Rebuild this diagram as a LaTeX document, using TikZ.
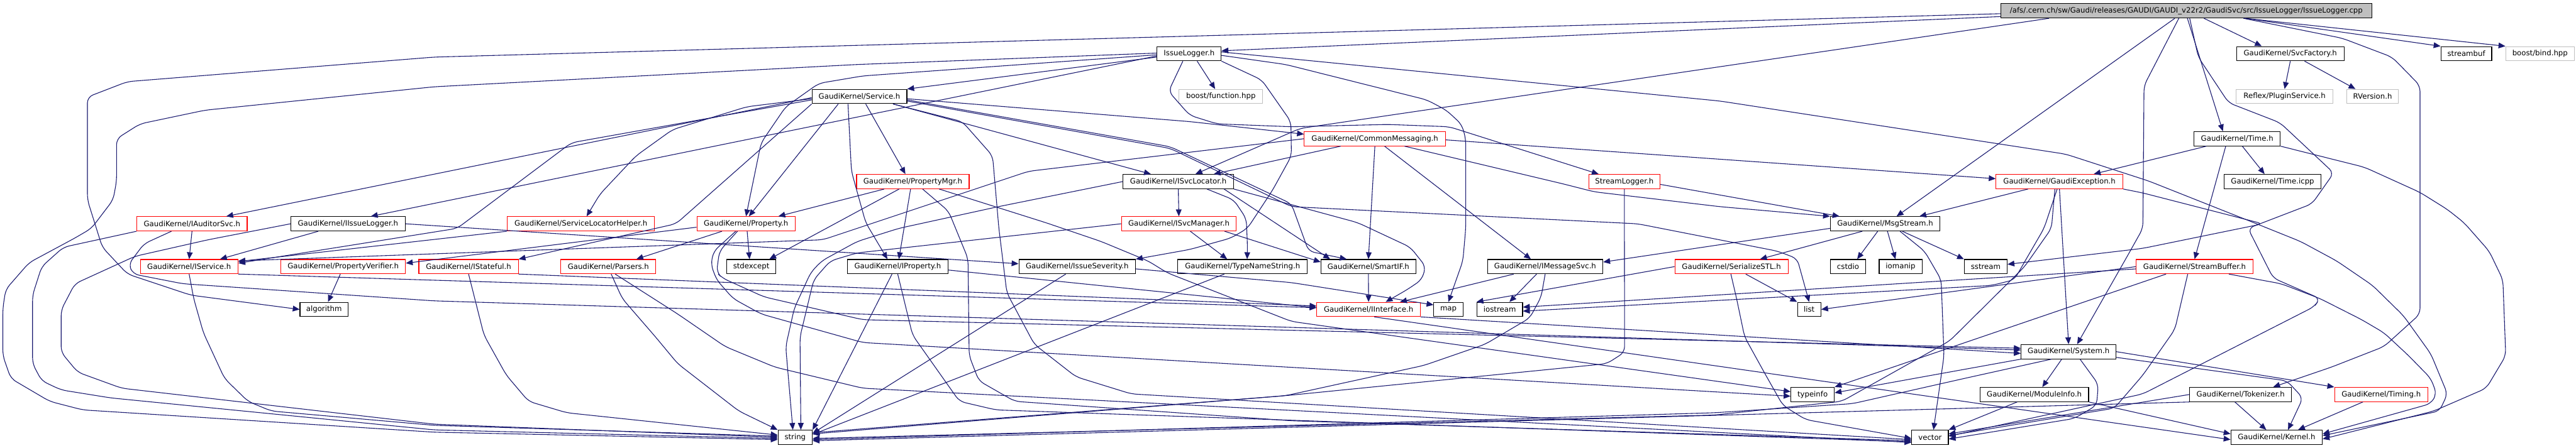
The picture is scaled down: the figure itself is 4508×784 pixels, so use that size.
\documentclass[tikz,border=0pt]{standalone}
\usepackage{fontspec}
\setmainfont{DejaVu Sans}
\usetikzlibrary{arrows.meta}
\definecolor{eb}{HTML}{191970}
\definecolor{gb}{HTML}{BFBFBF}
\begin{document}
\begin{tikzpicture}[x=1pt,y=-1pt,
 nb/.style={draw=black,line width=1.2pt,minimum height=25pt,inner sep=0pt,font=\fontsize{12.9pt}{15pt}\selectfont},
 nr/.style={nb,draw=red},
 ng/.style={nb,draw=gb},
 nroot/.style={nb,fill=gb},
 dep/.style={draw=eb,line width=1.2pt,-{Triangle[length=12pt,width=10pt]}},
 cv/.style={dep,rounded corners=10pt}]
\fill[white] (0,0) rectangle (4508,784);
\useasboundingbox (0,0) rectangle (4508,784);
% nodes
\node[nroot,minimum width=649pt] (root) at (3826,19) {/afs/.cern.ch/sw/Gaudi/releases/GAUDI/GAUDI\_v22r2/GaudiSvc/src/IssueLogger/IssueLogger.cpp};
\node[nb,minimum width=112pt] (IL) at (2081,94) {IssueLogger.h};
\node[nb,minimum width=188pt] (SF) at (4008,94) {GaudiKernel/SvcFactory.h};
\node[nb,minimum width=89pt] (sbuf) at (4316,94) {streambuf};
\node[ng,minimum width=120pt] (bind) at (4445,94) {boost/bind.hpp};
\node[nb,minimum width=166pt] (Svc) at (1504,169) {GaudiKernel/Service.h};
\node[ng,minimum width=146pt] (fun) at (2136.5,169) {boost/function.hpp};
\node[ng,minimum width=169pt] (PS) at (3998,169) {Reflex/PluginService.h};
\node[ng,minimum width=91pt] (RV) at (4152,169) {RVersion.h};
\node[nr,minimum width=247pt] (CM) at (2406,243) {GaudiKernel/CommonMessaging.h};
\node[nb,minimum width=151pt] (Time) at (3915,243) {GaudiKernel/Time.h};
\node[nr,minimum width=197pt] (PM) at (1597.5,318) {GaudiKernel/PropertyMgr.h};
\node[nb,minimum width=193pt] (SL) at (2062,318) {GaudiKernel/ISvcLocator.h};
\node[nr,minimum width=125pt] (StL) at (2842.6,318) {StreamLogger.h};
\node[nr,minimum width=222pt] (GE) at (3604,318) {GaudiKernel/GaudiException.h};
\node[nb,minimum width=170pt] (Ticpp) at (3977,318) {GaudiKernel/Time.icpp};
\node[nr,minimum width=193pt] (AS) at (336,392) {GaudiKernel/IAuditorSvc.h};
\node[nb,minimum width=200pt] (IIL) at (609,392) {GaudiKernel/IIssueLogger.h};
\node[nr,minimum width=258pt] (SLH) at (1016.6,392) {GaudiKernel/ServiceLocatorHelper.h};
\node[nr,minimum width=172pt] (Prop) at (1305.5,392) {GaudiKernel/Property.h};
\node[nr,minimum width=201pt] (SM) at (2063,392) {GaudiKernel/ISvcManager.h};
\node[nb,minimum width=192pt] (MS) at (3299,392) {GaudiKernel/MsgStream.h};
\node[nr,minimum width=171pt] (ISv) at (331,467) {GaudiKernel/IService.h};
\node[nr,minimum width=218pt] (PV) at (600.6,467) {GaudiKernel/PropertyVerifier.h};
\node[nr,minimum width=174pt] (IStf) at (820,467) {GaudiKernel/IStateful.h};
\node[nr,minimum width=166pt] (Pars) at (1064.6,467) {GaudiKernel/Parsers.h};
\node[nb,minimum width=86pt] (stdx) at (1314.7,467) {stdexcept};
\node[nb,minimum width=176pt] (IP) at (1571,467) {GaudiKernel/IProperty.h};
\node[nb,minimum width=204pt] (ISev) at (1885,467) {GaudiKernel/IssueSeverity.h};
\node[nb,minimum width=227pt] (TNS) at (2174.5,467) {GaudiKernel/TypeNameString.h};
\node[nb,minimum width=166pt] (SIF) at (2394.7,467) {GaudiKernel/SmartIF.h};
\node[nb,minimum width=202pt] (IMS) at (2704,467) {GaudiKernel/IMessageSvc.h};
\node[nr,minimum width=198pt] (SS) at (3030,467) {GaudiKernel/SerializeSTL.h};
\node[nb,minimum width=61pt] (cstdio) at (3234,467) {cstdio};
\node[nb,minimum width=75pt] (iomanip) at (3326,467) {iomanip};
\node[nb,minimum width=75pt] (sstream) at (3475,467) {sstream};
\node[nr,minimum width=204pt] (SB) at (3840.5,467) {GaudiKernel/StreamBuffer.h};
\node[nb,minimum width=84pt] (algo) at (567,542) {algorithm};
\node[nr,minimum width=181pt] (II) at (2395,542) {GaudiKernel/IInterface.h};
\node[nb,minimum width=51pt] (map) at (2534.7,542) {map};
\node[nb,minimum width=80pt] (iostr) at (2624.5,542) {iostream};
\node[nb,minimum width=41pt] (list) at (3166,542) {list};
\node[nb,minimum width=166pt] (Sys) at (3620,616) {GaudiKernel/System.h};
\node[nb,minimum width=76pt] (tinfo) at (3172,691) {typeinfo};
\node[nb,minimum width=190pt] (MI) at (3560,691) {GaudiKernel/ModuleInfo.h};
\node[nb,minimum width=178pt] (Tok) at (3921,691) {GaudiKernel/Tokenizer.h};
\node[nr,minimum width=163pt] (Tim) at (4167,691) {GaudiKernel/Timing.h};
\node[nb,minimum width=60pt] (str) at (1391.5,766) {string};
\node[nb,minimum width=64pt] (vec) at (3377.6,766) {vector};
\node[nb,minimum width=160pt] (Ker) at (3984,766) {GaudiKernel/Kernel.h};
% root
\draw[dep] ([yshift=-10pt]root.west) -- ([yshift=5pt]IL.east);
\draw[cv] ([yshift=-5pt]root.west) -- (760,100) -- (223,143) -- (153,170) -- (153,350) -- (179,433) -- (223,480) -- (334,517) -- (algo.west);
\draw[cv] ([xshift=85pt]root.south west) -- (2275,225) -- ([xshift=30pt]SL.north);
\draw[dep] ([xshift=305pt]root.south west) -- ([xshift=20pt]MS.north);
\draw[cv] ([xshift=312pt]root.south west) -- (3752,150) -- (3750,400) -- (3722,450) -- ([xshift=15pt]Sys.north);
\draw[dep] ([xshift=327pt]root.south west) -- ([xshift=-25pt]Time.north);
\draw[cv] ([xshift=331pt]root.south west) -- (3847,100) -- (3900,180) -- (3990,215) -- (4084,303) -- (4046,357) -- (3934,400) -- (3978,487) -- (4060,523) -- (4050,537) -- (3750,690) -- ([yshift=2pt]vec.east);
\draw[dep] ([xshift=356pt]root.south west) -- ([xshift=-50pt]SF.north);
\draw[dep] ([xshift=428pt]root.south west) -- (sbuf.north west);
\draw[dep] ([xshift=428pt]root.south west) -- (bind.north west);
\draw[cv] ([xshift=425pt]root.south west) -- (4099,67) -- (4186,100) -- (4235,150) -- (4235,550) -- (4172,607) -- (4080,643) -- ([xshift=57pt]Tok.north);
% IssueLogger.h
\draw[dep] ([yshift=-6pt]IL.west) -- (Svc.north east);
\draw[dep] ([xshift=14pt]IL.south) -- ([xshift=-10pt]fun.north);
\draw[cv] ([yshift=-2pt]IL.west) -- (1510,133) -- (1433,146) -- (1375,187) -- (1332,250) -- (Prop.north);
\draw[dep] ([yshift=-4pt]IL.west) -- ([xshift=40pt]IIL.north);
\draw[cv] (IL.south east) -- (2208,140) -- (2259,213) -- (2260,273) -- (2227,333) -- (2183,400) -- (2154,417) -- (2082,437) -- (ISev.north east);
\draw[cv] ([xshift=-11pt]IL.south) -- (2045,160) -- (2082,202) -- (2130,217) -- (2260,222) -- (2429,218) -- (2536,222) -- ([xshift=-45pt]StL.north);
\draw[cv] ([yshift=-3pt]IL.east) -- (2250,113) -- (2497,175) -- (2531,193) -- (2558,218) -- (2565,243) -- (2565,400) -- (2560,457) -- (map.north);
\draw[cv] ([yshift=3pt]IL.east) -- (3010,177) -- (3615,270) -- (3760,317) -- (3944,390) -- (4026,423) -- (4089,457) -- (4152,500) -- (4206,553) -- (4254,620) -- (4283,690) -- (4269,720) -- ([yshift=3pt]Ker.east);
\draw[cv] ([yshift=1pt]IL.west) -- (1500,113) -- (760,152) -- (359,193) -- (245,217) -- (204,243) -- (204,317) -- (198,350) -- (160,400) -- (131,417) -- (51,460) -- (10,507) -- (5,540) -- (5,623) -- (19,663) -- (87,703) -- (145,718) -- (760,757) -- ([yshift=-4pt]str.west);
% SvcFactory
\draw[dep] (SF.south) -- (PS.north);
\draw[dep] ([xshift=25pt]SF.south) -- ([xshift=-30pt]RV.north);
% Time
\draw[dep] ([xshift=-54pt]Time.south) -- ([xshift=60pt]GE.north);
\draw[dep] ([xshift=-20pt]Time.south) -- (SB.north);
\draw[dep] ([xshift=9pt]Time.south) -- ([xshift=-14pt]Ticpp.north);
\draw[cv] (Time.south east) -- (4138,293) -- (4235,337) -- (4283,367) -- (4312,390) -- (4356,440) -- (4380,490) -- (4385,623) -- (4351,680) -- (4259,720) -- ([yshift=-3pt]Ker.east);
% Service
\draw[cv] ([yshift=-6pt]Svc.west) -- (1000,250) -- (800,400) -- ([yshift=6pt]ISv.east);
\draw[dep] ([yshift=-2pt]Svc.west) -- ([xshift=60pt]AS.north);
\draw[cv] ([yshift=-4pt]Svc.west) -- (1307,187) -- (1177,227) -- (1113,273) -- (1050,340) -- ([xshift=10pt]SLH.north);
\draw[dep] ([xshift=-37pt]Svc.south) -- ([xshift=5pt]Prop.north);
\draw[dep] ([xshift=11pt]Svc.south) -- ([xshift=-13pt]PM.north);
\draw[cv] ([xshift=-20pt]Svc.south) -- (1490,300) -- (1515,390) -- ([xshift=-18pt]IP.north);
\draw[dep] ([xshift=59pt]Svc.south) -- ([xshift=-48pt]SL.north);
\draw[cv] ([yshift=-4pt]Svc.east) -- (2082,213) -- ([yshift=8pt]CM.west);
\draw[cv] ([yshift=-6pt]Svc.east) -- (2048,257) -- (2260,357) -- (2290,440) -- ([xshift=-38pt]SIF.north);
\draw[cv] ([yshift=-8pt]Svc.east) -- (2048,260) -- (2260,362) -- (2866,392) -- (3111,440) -- (3145,453) -- (list.north);
\draw[cv] (Svc.south west) -- (1183,392) -- (IStf.north east);
\draw[cv] ([xshift=-25pt]Svc.south east) -- (1684,213) -- (1737,273) -- (1748,400) -- (1762,513) -- (1810,603) -- (1883,660) -- (1980,690) -- ([yshift=-4pt]vec.west);
% IAuditorSvc
\draw[dep] (AS.south) -- (ISv.north);
\draw[cv] (AS.south west) -- (111,433) -- (73,467) -- (57,517) -- (57,637) -- (73,667) -- (107,683) -- (194,697) -- (760,753) -- ([yshift=-2pt]str.west);
\draw[cv] ([xshift=-36pt]AS.south) -- (252,427) -- (225,463) -- (233,480) -- (320,497) -- (760,527) -- ([yshift=3pt]Sys.west);
% IIssueLogger
\draw[dep] ([xshift=-52pt]IIL.south) -- ([xshift=54pt]ISv.north);
\draw[dep] (IIL.east) -- ([yshift=5pt]ISev.west);
\draw[cv] (IIL.west) -- (364,420) -- (236,449) -- (131,497) -- (107,543) -- (107,617) -- (136,652) -- (213,680) -- (760,743) -- (str.west);
% IService
\draw[cv] (ISv.south) -- (339,523) -- (356,583) -- (393,663) -- (434,703) -- (475,720) -- (760,745) -- ([yshift=2pt]str.west);
\draw[dep] (ISv.south east) -- ([yshift=3pt]II.west);
% PropertyVerifier
\draw[dep] ([xshift=-5pt]PV.south) -- ([xshift=7pt]algo.north);
% IStateful
\draw[cv] (IStf.south) -- (847,587) -- (886,657) -- (925,703) -- (992,723) -- ([yshift=4pt]str.west);
\draw[dep] (IStf.south east) -- ([yshift=6pt]II.west);
% ServiceLocatorHelper
\draw[dep] (SLH.south west) -- ([yshift=9pt]ISv.east);
% Property
\draw[dep] ([yshift=-6pt]Prop.west) -- ([yshift=6pt]PV.east);
\draw[dep] ([xshift=-42pt]Prop.south) -- ([xshift=49pt]Pars.north);
\draw[dep] ([xshift=2pt]Prop.south) -- ([xshift=-3pt]stdx.north);
\draw[cv] ([xshift=-18pt]Prop.south) -- (1249,440) -- (1244,463) -- (1254,490) -- (1283,523) -- (1332,550) -- (1510,600) -- ([yshift=-3pt]tinfo.west);
\draw[cv] ([xshift=-15pt]Prop.south) -- (1259,440) -- (1254,477) -- (1264,487) -- (1337,520) -- (1510,560) -- ([yshift=6pt]Sys.west);
% PropertyMgr
\draw[dep] ([xshift=-50pt]PM.south) -- ([xshift=-30pt]Prop.north east);
\draw[dep] ([xshift=-24pt]PM.south) -- ([xshift=-12pt]stdx.north east);
\draw[dep] ([xshift=-4pt]PM.south) -- ([xshift=2pt]IP.north);
\draw[cv] ([xshift=17pt]PM.south) -- (1660,370) -- (1694,453) -- (1696,623) -- (1713,667) -- (1776,703) -- (2260,737) -- ([yshift=-6pt]vec.west);
\draw[cv] ([xshift=46pt]PM.south) -- (1830,390) -- (1927,423) -- (2009,457) -- (2043,478) -- (2260,563) -- ([yshift=5pt]tinfo.west);
% IProperty
\draw[dep] ([yshift=-6pt]IP.east) -- ([yshift=3pt]II.west);
\draw[dep] ([xshift=-10pt]IP.south) -- (str.north east);
\draw[cv] (IP.south) -- (1597,587) -- (1679,703) -- (1743,718) -- ([yshift=-8pt]vec.west);
% ISvcLocator
\draw[dep] (SL.south) -- (SM.north);
\draw[cv] ([xshift=50pt]SL.south) -- (2159,350) -- (2181,383) -- (2183,430) -- ([xshift=8pt]TNS.north);
\draw[dep] ([xshift=80pt]SL.south) -- ([xshift=-67pt]SIF.north);
\draw[cv] (SL.south east) -- (2376,390) -- (2468,433) -- (2495,467) -- (2488,490) -- (2463,507) -- ([xshift=30pt]II.north);
\draw[cv] (SL.west) -- (1747,362) -- (1573,400) -- (1500,423) -- (1438,457) -- (1419,477) -- (1390,540) -- (1375,607) -- ([xshift=-4pt]str.north);
% ISvcManager
\draw[dep] ([xshift=20pt]SM.south) -- ([xshift=-27pt]TNS.north);
\draw[dep] ([xshift=80pt]SM.south) -- ([yshift=8pt]SIF.west);
\draw[cv] (SM.west) -- (1500,443) -- (1453,457) -- (1424,490) -- (1400,590) -- ([xshift=10pt]str.north);
% TypeNameString
\draw[dep] ([xshift=-32pt]TNS.south) -- ([yshift=5pt]str.east);
% StreamLogger
\draw[dep] ([yshift=-5pt]StL.east) -- ([xshift=-80pt]MS.north);
\draw[cv] (StL.south) -- (2843,617) -- (2812,637) -- (2250,693) -- ([yshift=6pt]str.east);
% CommonMessaging
\draw[dep] ([xshift=-60pt]CM.south) -- ([xshift=-35pt]SL.north east);
\draw[dep] (CM.south) -- (SIF.north);
\draw[dep] ([xshift=17pt]CM.south) -- ([xshift=-25pt]IMS.north);
\draw[cv] ([xshift=52pt]CM.south) -- (2735,322) -- (2790,336) -- (3010,362) -- (MS.north west);
\draw[dep] ([yshift=-2pt]CM.east) -- ([yshift=5pt]GE.west);
\draw[cv] (CM.west) -- (1800,300) -- (1440,420) -- ([yshift=10pt]ISv.east);
% IMessageSvc
\draw[dep] ([xshift=-55pt]IMS.south) -- ([xshift=55pt]II.north);
\draw[dep] ([xshift=-15pt]IMS.south) -- ([xshift=17pt]iostr.north);
\draw[cv] (IMS.south) -- (2697,520) -- (2677,557) -- (2599,603) -- (2492,640) -- (2250,693) -- ([yshift=8pt]str.east);
% MsgStream
\draw[dep] ([yshift=-8pt]MS.west) -- ([yshift=8pt]IMS.east);
\draw[dep] ([xshift=-40pt]MS.south) -- ([xshift=50pt]SS.north);
\draw[dep] ([xshift=-13pt]MS.south) -- ([xshift=16pt]cstdio.north);
\draw[dep] ([xshift=4pt]MS.south) -- ([xshift=-9pt]iomanip.north);
\draw[dep] ([xshift=30pt]MS.south) -- (sstream.north west);
\draw[cv] ([xshift=26pt]MS.south) -- (3368,440) -- (3397,490) -- (3402,623) -- ([xshift=6pt]vec.north);
% SerializeSTL
\draw[dep] ([xshift=25pt]SS.south) -- (list.north west);
\draw[cv] ([xshift=-1pt]SS.south) -- (3039,523) -- (3053,590) -- (3090,657) -- (3120,710) -- (3160,735) -- ([yshift=-2pt]vec.west);
\draw[dep] (SS.west) -- (iostr.north west);
% GaudiException
\draw[dep] ([xshift=-55pt]GE.south) -- ([xshift=60pt]MS.north);
\draw[dep] (GE.south) -- (Sys.north);
\draw[cv] ([xshift=-8pt]GE.south) -- (3590,400) -- (3543,467) -- (3412,597) -- (3223,703) -- (3000,727) -- ([yshift=-2pt]str.east);
\draw[cv] ([xshift=-4pt]GE.south) -- (3577,400) -- (3548,450) -- (3525,490) -- (3485,500) -- ([yshift=-3pt]iostr.east);
\draw[cv] (GE.south east) -- (3750,338) -- (3960,392) -- (3750,435) -- ([yshift=4pt]sstream.east);
% StreamBuffer
\draw[dep] ([xshift=-50pt]SB.south) -- (tinfo.north east);
\draw[dep] (SB.west) -- (list.east);
\draw[dep] ([yshift=-4pt]SB.west) -- ([yshift=4pt]iostr.east);
\draw[cv] ([xshift=-12pt]SB.south) -- (3806,577) -- (3750,657) -- (3700,715) -- ([yshift=3pt]vec.east);
\draw[cv] ([xshift=60pt]SB.south) -- (3992,497) -- (4060,523) -- (4133,560) -- (4172,583) -- (4215,623) -- (4254,663) -- (4264,690) -- (4254,707) -- ([yshift=6pt]Ker.east);
% System
\draw[dep] ([xshift=-12pt]Sys.south) -- ([xshift=14pt]MI.north);
\draw[dep] (Sys.south west) -- ([yshift=3pt]tinfo.east);
\draw[dep] (Sys.east) -- (Tim.north west);
\draw[cv] ([yshift=-10pt]Sys.east) -- (4002,667) -- (4030,697) -- ([xshift=20pt]Ker.north);
\draw[cv] ([xshift=-30pt]Sys.south) -- (3437,663) -- (3242,707) -- (3000,723) -- ([yshift=-4pt]str.east);
\draw[cv] ([xshift=20pt]Sys.south) -- (3672,673) -- (3669,710) -- (3630,733) -- ([yshift=-3pt]vec.east);
% ModuleInfo, Tokenizer, Timing
\draw[dep] ([xshift=-30pt]MI.south) -- (vec.north east);
\draw[dep] (MI.south east) -- ([yshift=6pt]Ker.west);
\draw[dep] ([xshift=-10pt]Tok.south) -- ([xshift=-18pt]Ker.north);
\draw[dep] (Tok.west) -- ([yshift=6pt]vec.east);
\draw[dep] (Tok.south west) -- ([yshift=-6pt]str.east);
\draw[dep] ([xshift=-32pt]Tim.south) -- ([xshift=-43pt]Ker.north east);
% IInterface, SmartIF
\draw[dep] (II.south east) -- ([yshift=-3pt]Sys.west);
\draw[dep] ([xshift=10pt]II.south) -- ([yshift=-4pt]Ker.west);
\draw[dep] (SIF.south) -- (II.north);
% IssueSeverity
\draw[dep] ([xshift=-20pt]ISev.south) -- ([yshift=7pt]str.east);
\draw[cv] ([yshift=-4pt]ISev.east) -- (2260,495) -- ([yshift=8pt]map.west);
% Parsers
\draw[cv] ([xshift=5pt]Pars.south) -- (1089,523) -- (1147,590) -- (1186,637) -- (1293,720) -- (str.north west);
\draw[cv] ([xshift=12pt]Pars.south) -- (1186,550) -- (1269,607) -- (1356,643) -- (1510,680) -- ([yshift=-9pt]vec.west);
\end{tikzpicture}
\end{document}
